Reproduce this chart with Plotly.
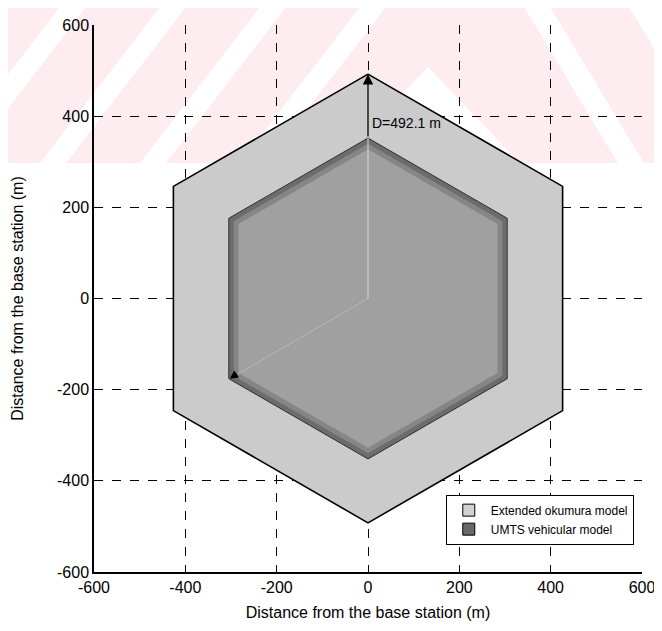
import math
import plotly.graph_objects as go

# ---- data ----
outer_radius = 492.1          # Extended okumura model cell radius (m)
inner_radius = 352.0          # UMTS vehicular model cell radius (m)
series_names = ["Extended okumura model", "UMTS vehicular model"]
series_colors = ["#d2d2d2", "#686868"]
tick_vals = [-600, -400, -200, 0, 200, 400, 600]
tick_text = ["-600", "-400", "-200", "0", "200", "400", "600"]
label_text = "D=492.1 m"
label_pos = [5, 384]
small_arrow_tip = [-303, -176]


def hexagon(r):
    angs = [90, 150, 210, 270, 330, 30, 90]
    xs = [r * math.cos(math.radians(a)) for a in angs]
    ys = [r * math.sin(math.radians(a)) for a in angs]
    return xs, ys


fig = go.Figure()

ox, oy = hexagon(outer_radius)
fig.add_trace(go.Scatter(x=ox, y=oy, fill="toself", mode="none",
                         fillcolor="#cbcbcb", showlegend=False, hoverinfo="skip"))
fig.add_trace(go.Scatter(x=ox, y=oy, mode="lines", line=dict(color="black", width=1.6),
                         showlegend=False, hoverinfo="skip"))

# inner cell drawn with shaded bands (darker toward the edge)
bands = [(1.0, "#6c6c6c"), (0.965, "#868686"), (0.93, "#a0a0a0")]
for frac, col in bands:
    ix, iy = hexagon(inner_radius * frac)
    fig.add_trace(go.Scatter(x=ix, y=iy, fill="toself", mode="none", fillcolor=col,
                             showlegend=False, hoverinfo="skip"))
ix, iy = hexagon(inner_radius)
fig.add_trace(go.Scatter(x=ix, y=iy, mode="lines", line=dict(color="#303030", width=1),
                         showlegend=False, hoverinfo="skip"))

# legend entries (square patches)
for name, col in zip(series_names, series_colors):
    fig.add_trace(go.Bar(x=[None], y=[None], name=name,
                         marker=dict(color=col, line=dict(color="black", width=1))))

# faint radius lines inside the inner cell
fig.add_trace(go.Scatter(x=[0, 0], y=[0, inner_radius], mode="lines",
                         line=dict(color="#d6d6d6", width=1), showlegend=False, hoverinfo="skip"))
fig.add_trace(go.Scatter(x=[0, small_arrow_tip[0]], y=[0, small_arrow_tip[1]], mode="lines",
                         line=dict(color="#b8b8b8", width=1), showlegend=False, hoverinfo="skip"))

# arrow to the outer vertex
fig.add_annotation(x=0, y=outer_radius, ax=0, ay=inner_radius, xref="x", yref="y",
                   axref="x", ayref="y", showarrow=True, arrowhead=2, arrowsize=1.6,
                   arrowwidth=1.3, arrowcolor="black", text="")
fig.add_annotation(x=small_arrow_tip[0], y=small_arrow_tip[1], ax=9, ay=-6,
                   xref="x", yref="y", showarrow=True, arrowhead=2, arrowsize=1.4,
                   arrowwidth=1.2, arrowcolor="black", text="")
fig.add_annotation(x=label_pos[0], y=label_pos[1], xref="x", yref="y", text=label_text,
                   showarrow=False, xanchor="left", yanchor="middle",
                   font=dict(family="Liberation Sans, Arial", size=14, color="black"))

# ---- layout geometry (page has an 8px body margin) ----
OFF = 8
W, H = 662 - OFF, 631 - OFF
L, R, T, B = 94, 642, 25, 572     # plot area in window pixels


def px(x):
    return (x - L) / (R - L)


def py(y):
    return (B - y) / (B - T)


def poly(points, color):
    d = "M " + " L ".join(f"{px(a):.4f},{py(b):.4f}" for a, b in points) + " Z"
    return dict(type="path", path=d, xref="paper", yref="paper", layer="below",
                fillcolor=color, line=dict(width=0))


# ---- watermark (pink band with white diagonal bands) ----
pink = "#fdedf0"
band_bottom = 163
shapes = [poly([(0, 0), (662, 0), (662, band_bottom), (0, band_bottom)], pink)]
for cx in [-60, 40, 140, 240]:
    w = 26
    sh = band_bottom / 1.3
    shapes.append(poly([(cx + sh, 0), (cx + sh + w, 0), (cx + w, band_bottom), (cx, band_bottom)], "white"))
shapes.append(poly([(428, 67), (520, band_bottom), (336, band_bottom)], "white"))
for cx in [520, 625]:
    w = 26
    sh = band_bottom * 0.6
    shapes.append(poly([(cx, 0), (cx + w, 0), (cx + w + sh, band_bottom), (cx + sh, band_bottom)], "white"))
fig.update_layout(shapes=shapes)

axis_common = dict(
    range=[-600, 600], tickvals=tick_vals, ticktext=tick_text,
    showgrid=True, gridcolor="black", griddash="dash", gridwidth=1,
    zeroline=False, showline=True, linecolor="black", linewidth=1.5,
    ticks="inside", ticklen=5, tickcolor="black", automargin=False,
    tickfont=dict(family="Liberation Sans, Arial", size=16, color="black"),
)
fig.update_xaxes(**axis_common,
                 title=dict(text="Distance from the base station (m)", standoff=12,
                            font=dict(family="Liberation Sans, Arial", size=16, color="black")))
fig.update_yaxes(**axis_common,
                 title=dict(text="Distance from the base station (m)", standoff=29,
                            font=dict(family="Liberation Sans, Arial", size=16, color="black")))

fig.update_layout(
    width=W, height=H,
    margin=dict(l=L - OFF, r=W - (R - OFF), t=T - OFF, b=H - (B - OFF)),
    paper_bgcolor="white", plot_bgcolor="rgba(0,0,0,0)",
    showlegend=True,
    legend=dict(x=0.985, y=0.05, xanchor="right", yanchor="bottom",
                bgcolor="white", bordercolor="black", borderwidth=1,
                font=dict(family="Liberation Sans, Arial", size=12, color="black"),
                tracegroupgap=0, itemwidth=34),
)

fig.write_html("out.html")
